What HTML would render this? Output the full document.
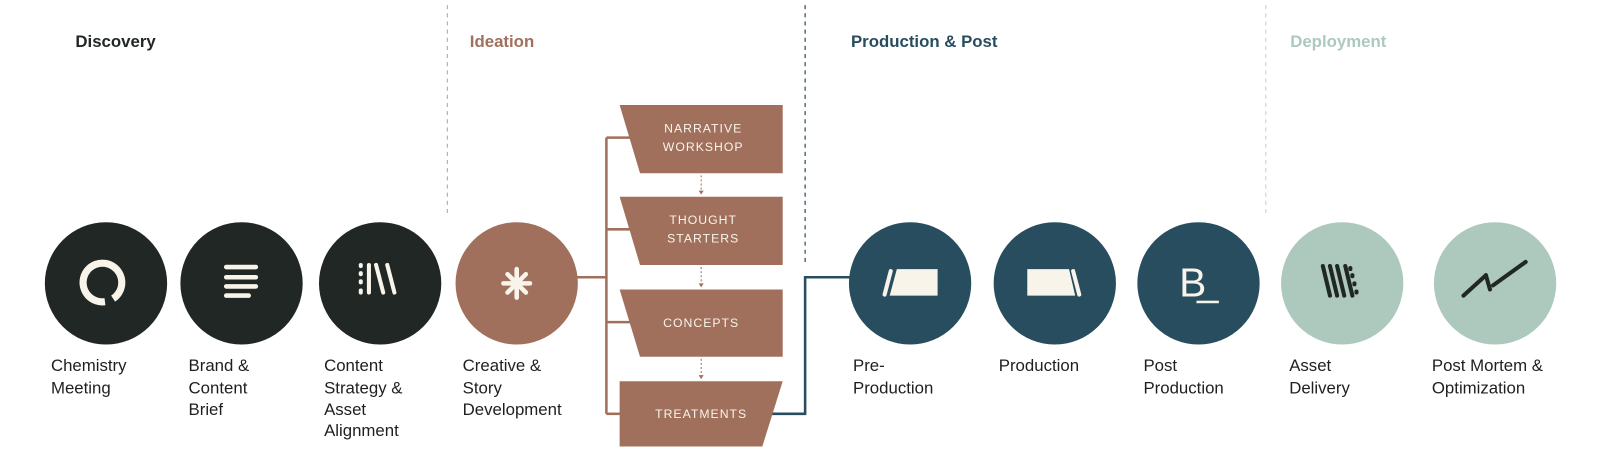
<!DOCTYPE html>
<html><head><meta charset="utf-8"><style>
html,body{margin:0;padding:0;background:#fff;width:1598px;height:476px;overflow:hidden}
svg{display:block}
text{font-family:"Liberation Sans",sans-serif}
.h{font-size:16.5px;font-weight:bold}
.l{font-size:16.5px;fill:#1f1f1f}
.b{font-size:12px;fill:#f8f4ea;letter-spacing:1px;text-anchor:middle}
</style></head><body>
<svg width="1598" height="476" viewBox="0 0 1568 467" preserveAspectRatio="none">
<!-- dividers -->
<line x1="439" y1="5" x2="439" y2="212" stroke="#d4a79a" stroke-width="1.2" stroke-dasharray="4,4"/>
<line x1="790" y1="5" x2="790" y2="258" stroke="#284d5e" stroke-width="1.2" stroke-dasharray="4,4"/>
<line x1="1242" y1="5" x2="1242" y2="212" stroke="#c8d8d0" stroke-width="1.2" stroke-dasharray="4,4"/>
<!-- headers -->
<text class="h" x="74" y="46" fill="#212724">Discovery</text>
<text class="h" x="461" y="46" fill="#a0705c">Ideation</text>
<text class="h" x="835" y="46" fill="#284d5e">Production &amp; Post</text>
<text class="h" x="1266" y="46" fill="#adc9bd">Deployment</text>
<!-- brown connectors -->
<g stroke="#a0705c" stroke-width="2.5" fill="none">
<line x1="566" y1="272" x2="595" y2="272"/>
<line x1="595" y1="135" x2="595" y2="406"/>
<line x1="595" y1="135" x2="620" y2="135"/>
<line x1="595" y1="225" x2="620" y2="225"/>
<line x1="595" y1="316" x2="620" y2="316"/>
<line x1="595" y1="406" x2="610" y2="406"/>
</g>
<!-- blue connector -->
<polyline points="755,406 790,406 790,272 835,272" stroke="#284d5e" stroke-width="2.5" fill="none"/>
<!-- dotted arrows -->
<g stroke="#a0705c" stroke-width="1" stroke-dasharray="2,2" fill="none">
<line x1="688" y1="172" x2="688" y2="189"/>
<line x1="688" y1="262" x2="688" y2="280"/>
<line x1="688" y1="352" x2="688" y2="370"/>
</g>
<g fill="#a0705c">
<path d="M685.5 187 L690.5 187 L688 191Z"/>
<path d="M685.5 278 L690.5 278 L688 282Z"/>
<path d="M685.5 368 L690.5 368 L688 372Z"/>
</g>
<!-- boxes -->
<g fill="#a0705c">
<polygon points="608,103 768,103 768,170 628,170"/>
<polygon points="608,193 768,193 768,260 628,260"/>
<polygon points="608,284 768,284 768,350 628,350"/>
<polygon points="608,374 768,374 748,438 608,438"/>
</g>
<text class="b" x="690" y="130">NARRATIVE</text>
<text class="b" x="690" y="148">WORKSHOP</text>
<text class="b" x="690" y="220">THOUGHT</text>
<text class="b" x="690" y="238">STARTERS</text>
<text class="b" x="688" y="321">CONCEPTS</text>
<text class="b" x="688" y="410">TREATMENTS</text>
<!-- circles -->
<circle cx="104" cy="278" r="60" fill="#212724"/>
<circle cx="237" cy="278" r="60" fill="#212724"/>
<circle cx="373" cy="278" r="60" fill="#212724"/>
<circle cx="507" cy="278" r="60" fill="#a0705c"/>
<circle cx="893" cy="278" r="60" fill="#284d5e"/>
<circle cx="1035" cy="278" r="60" fill="#284d5e"/>
<circle cx="1176" cy="278" r="60" fill="#284d5e"/>
<circle cx="1317" cy="278" r="60" fill="#adc9bd"/>
<circle cx="1467" cy="278" r="60" fill="#adc9bd"/>
<!-- icons -->
<g stroke="#f8f4ea" fill="none" stroke-linecap="round">
<path d="M103 296 A19 19 0 1 1 111 293" stroke-width="7" stroke-linecap="butt"/>
<g stroke-width="4.5"><line x1="222" y1="262" x2="251" y2="262"/><line x1="222" y1="272" x2="251" y2="272"/><line x1="222" y1="281" x2="251" y2="281"/><line x1="222" y1="290" x2="244" y2="290"/></g>
<g stroke-width="4"><line x1="354" y1="260" x2="354" y2="261"/><line x1="354" y1="268" x2="354" y2="269"/><line x1="354" y1="276" x2="354" y2="277"/><line x1="354" y1="285" x2="354" y2="287"/><line x1="362" y1="260" x2="362" y2="287"/><line x1="369" y1="260" x2="376" y2="287"/><line x1="380" y1="260" x2="387" y2="287"/></g>
<g stroke-width="4.5"><line x1="507" y1="264" x2="507" y2="292"/><line x1="494" y1="278" x2="520" y2="278"/><line x1="498" y1="269" x2="516" y2="287"/><line x1="516" y1="269" x2="498" y2="287"/></g>
<line x1="874" y1="266" x2="868" y2="289" stroke-width="4"/>
<line x1="1053" y1="266" x2="1059" y2="289" stroke-width="4"/>
</g>
<g fill="#f8f4ea">
<polygon points="880,264 920,264 920,290 873,290"/>
<polygon points="1008,264 1049,264 1055,290 1008,290"/>
<rect x="1174" y="295" width="22" height="2.5"/>
</g>
<text x="1157" y="291" font-size="40" fill="#f8f4ea" style="font-family:'Liberation Sans',sans-serif">B</text>
<g stroke="#212724" stroke-width="4" stroke-linecap="round" fill="none">
<line x1="1298" y1="261" x2="1305" y2="290"/><line x1="1305" y1="261" x2="1312" y2="290"/><line x1="1312" y1="261" x2="1319" y2="290"/><line x1="1320" y1="261" x2="1327" y2="290"/>
<line x1="1325" y1="263" x2="1325" y2="264"/><line x1="1327" y1="270" x2="1327" y2="271"/><line x1="1329" y1="278" x2="1329" y2="279"/><line x1="1331" y1="286" x2="1331" y2="287"/>
<line x1="1436" y1="290" x2="1458" y2="270"/><line x1="1465" y1="280" x2="1497" y2="257"/><line x1="1458" y1="270" x2="1462" y2="284"/>
</g>
<!-- labels -->
<g class="l">
<text x="50" y="364" class="l">Chemistry</text><text x="50" y="386" class="l">Meeting</text>
<text x="185" y="364" class="l">Brand &amp;</text><text x="185" y="386" class="l">Content</text><text x="185" y="407" class="l">Brief</text>
<text x="318" y="364" class="l">Content</text><text x="318" y="386" class="l">Strategy &amp;</text><text x="318" y="407" class="l">Asset</text><text x="318" y="428" class="l">Alignment</text>
<text x="454" y="364" class="l">Creative &amp;</text><text x="454" y="386" class="l">Story</text><text x="454" y="407" class="l">Development</text>
<text x="837" y="364" class="l">Pre-</text><text x="837" y="386" class="l">Production</text>
<text x="980" y="364" class="l">Production</text>
<text x="1122" y="364" class="l">Post</text><text x="1122" y="386" class="l">Production</text>
<text x="1265" y="364" class="l">Asset</text><text x="1265" y="386" class="l">Delivery</text>
<text x="1405" y="364" class="l">Post Mortem &amp;</text><text x="1405" y="386" class="l">Optimization</text>
</g>
</svg>
</body></html>
